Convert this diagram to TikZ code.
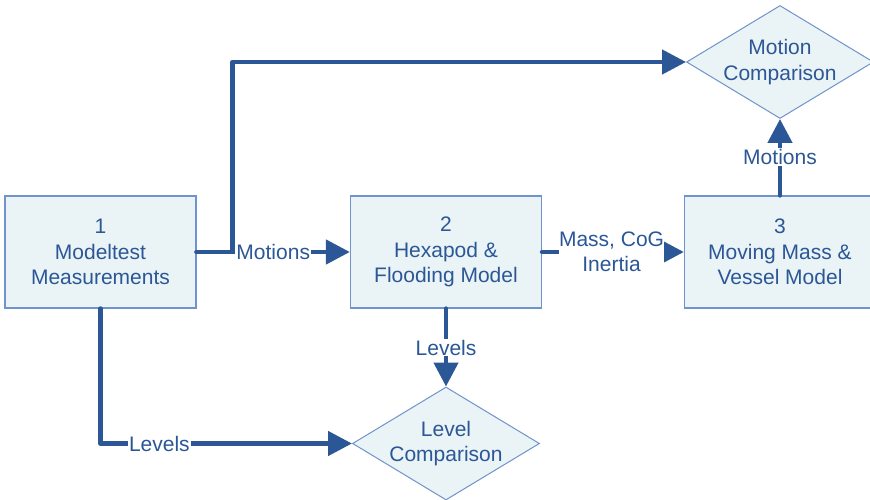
\documentclass[tikz,border=0pt]{standalone}
\usepackage{fontspec}
\setmainfont{Liberation Sans}
\usetikzlibrary{shapes.geometric,arrows.meta}
\definecolor{flow}{HTML}{2B5797}
\definecolor{edge}{HTML}{6F93CB}
\definecolor{pane}{HTML}{EAF3F5}
\begin{document}
\begin{tikzpicture}[x=1pt,y=-1pt,
  every node/.style={text=flow,font=\fontsize{21}{25.5}\selectfont,align=center},
  block/.style={draw=edge,line width=1.2pt,fill=pane,minimum width=191pt,minimum height=112pt,inner sep=0pt},
  decision/.style={diamond,draw=edge,line width=1pt,fill=pane,minimum width=187pt,minimum height=113pt,inner sep=0pt},
  link/.style={draw=flow,line width=4.6pt,line cap=round,line join=round,
    -{Triangle[length=24pt,width=24pt,sharp]}},
  tag/.style={fill=white,inner sep=1pt}]
\useasboundingbox (0,0) rectangle (870,500);

% process blocks
\node[block] (b1) at (100.5,252) {1\\Modeltest\\Measurements};
\node[block] (b2) at (446,252) {2\\Hexapod \&\\Flooding Model};
\node[block] (b3) at (780,252) {3\\Moving Mass \&\\Vessel Model};

% comparison diamonds
\node[decision] (mc) at (780,62) {};
\node (mct) at (mc) {Motion\\Comparison};
\node[decision] (lc) at (446,443.5) {};
\node (lct) at (lc) {Level\\Comparison};

% data flows
\draw[link] (b1.east) -- ++(36,0) |- (mc.west);
\draw[link] (b1.east) -- (b2.west) node[tag,pos=0.5] {Motions};
\draw[link] (b2.east) -- (b3.west) node[tag,pos=0.49,inner sep=0pt] {Mass, CoG\\Inertia};
\draw[link] (b3.north) -- (mc.south) node[tag,pos=0.5] {Motions};
\draw[link] (b2.south) -- (lc.north) node[tag,pos=0.5] {Levels};
\draw[link] (b1.south) |- (lc.west) node[tag,pos=0.617] {Levels};
\end{tikzpicture}
\end{document}
